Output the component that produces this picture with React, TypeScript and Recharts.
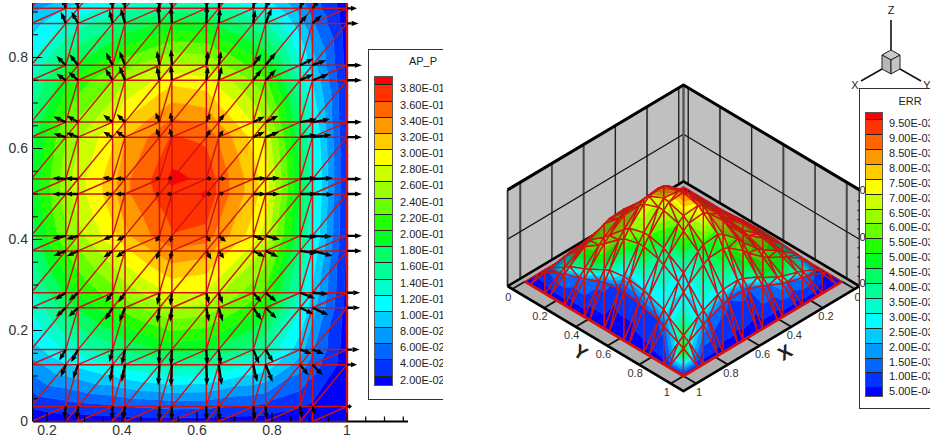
import { ScatterChart, Scatter, XAxis, YAxis } from 'recharts';

// mesh node positions, same for x and y, left and right panel
const meshNodes = [0, 0.033, 0.125, 0.158, 0.25, 0.283, 0.375, 0.408, 0.5, 0.533, 0.625, 0.658, 0.75, 0.783, 0.875, 0.908, 1];

const bandColors = [
  '#0000ff', '#0033ff', '#0066ff', '#0099ff', '#00ccff', '#00ffff', '#00ffcc', '#00ff99', '#00ff66', '#00ff22',
  '#22ff00', '#66ff00', '#99ff00', '#ccff00', '#ffff00', '#ffcc00', '#ff9900', '#ff6600', '#ff3300', '#ff0000',
];

const apLabels = ['3.80E-01', '3.60E-01', '3.40E-01', '3.20E-01', '3.00E-01', '2.80E-01', '2.60E-01', '2.40E-01', '2.20E-01', '2.00E-01', '1.80E-01', '1.60E-01', '1.40E-01', '1.20E-01', '1.00E-01', '8.00E-02', '6.00E-02', '4.00E-02', '2.00E-02'];
const errLabels = ['9.50E-03', '9.00E-03', '8.50E-03', '8.00E-03', '7.50E-03', '7.00E-03', '6.50E-03', '6.00E-03', '5.50E-03', '5.00E-03', '4.50E-03', '4.00E-03', '3.50E-03', '3.00E-03', '2.50E-03', '2.00E-03', '1.50E-03', '1.00E-03', '5.00E-04'];

// AP_P, x1000. Rows go up in y, columns go right in x.
const apValues = [
  [0, 0, 5, 6, 8, 8, 9, 10, 11, 12, 11, 11, 10, 9, 5, 4, 1],
  [1, 6, 18, 22, 30, 32, 37, 40, 44, 46, 45, 42, 37, 35, 22, 16, 2],
  [5, 21, 59, 71, 98, 105, 122, 131, 144, 149, 146, 138, 120, 113, 70, 51, 8],
  [6, 26, 74, 89, 123, 132, 153, 164, 181, 187, 183, 174, 151, 142, 88, 63, 9],
  [8, 37, 102, 123, 170, 183, 212, 228, 252, 259, 254, 241, 210, 197, 122, 88, 13],
  [9, 40, 111, 134, 185, 200, 231, 248, 274, 282, 276, 262, 228, 214, 133, 96, 14],
  [10, 47, 132, 159, 220, 237, 275, 295, 325, 336, 329, 312, 271, 254, 158, 114, 17],
  [11, 51, 141, 170, 235, 253, 293, 315, 348, 358, 351, 333, 290, 272, 170, 122, 18],
  [12, 54, 150, 181, 250, 270, 312, 335, 365, 372, 382, 354, 308, 289, 180, 129, 19],
  [12, 54, 150, 181, 250, 270, 312, 335, 368, 386, 375, 354, 308, 289, 180, 129, 19],
  [11, 51, 143, 172, 238, 256, 296, 318, 351, 362, 355, 337, 293, 274, 171, 122, 18],
  [10, 49, 135, 163, 226, 243, 281, 302, 333, 344, 337, 319, 278, 260, 162, 116, 17],
  [9, 41, 115, 139, 192, 207, 240, 258, 284, 293, 287, 272, 237, 222, 139, 99, 15],
  [8, 37, 104, 125, 173, 186, 215, 231, 255, 263, 258, 245, 213, 200, 124, 89, 13],
  [6, 26, 74, 89, 123, 132, 153, 164, 181, 187, 183, 174, 151, 142, 88, 63, 9],
  [5, 22, 60, 72, 100, 108, 125, 134, 148, 152, 149, 142, 123, 116, 72, 51, 8],
  [1, 3, 7, 9, 12, 13, 15, 17, 18, 19, 18, 17, 15, 14, 9, 6, 1],
];

// surface height, x1000. Rows go with Y, columns with X.
const surfaceZ = [
  [0, 0, 0, 0, 0, 0, 0, 0, 0, 0, 0, 0, 0, 0, 0, 0, 0],
  [0, 4, 12, 15, 21, 24, 33, 38, 47, 49, 48, 45, 37, 33, 21, 16, 0],
  [0, 13, 36, 43, 62, 70, 99, 112, 138, 143, 140, 133, 108, 96, 60, 46, 0],
  [0, 17, 46, 56, 79, 90, 127, 144, 177, 184, 180, 171, 139, 124, 77, 58, 0],
  [0, 23, 62, 76, 107, 122, 172, 195, 240, 249, 245, 232, 189, 168, 104, 79, 0],
  [0, 26, 69, 84, 120, 136, 191, 217, 267, 278, 271, 258, 210, 187, 116, 88, 0],
  [0, 33, 90, 108, 154, 175, 248, 280, 345, 360, 352, 334, 271, 241, 150, 114, 0],
  [0, 36, 96, 116, 165, 187, 264, 299, 369, 383, 376, 356, 290, 258, 162, 122, 0],
  [0, 38, 102, 123, 175, 200, 281, 318, 387, 398, 405, 379, 308, 275, 171, 129, 0],
  [0, 38, 102, 123, 175, 200, 281, 318, 390, 405, 401, 379, 308, 275, 171, 129, 0],
  [0, 36, 97, 117, 167, 189, 266, 302, 372, 387, 380, 361, 293, 260, 162, 122, 0],
  [0, 34, 92, 111, 158, 180, 253, 287, 353, 368, 361, 341, 278, 247, 154, 116, 0],
  [0, 29, 78, 95, 134, 153, 216, 245, 301, 314, 307, 291, 237, 211, 132, 99, 0],
  [0, 25, 67, 81, 115, 131, 184, 208, 257, 267, 262, 249, 202, 181, 112, 85, 0],
  [0, 15, 43, 52, 73, 83, 117, 133, 163, 170, 167, 158, 128, 115, 71, 54, 0],
  [0, 13, 35, 42, 60, 68, 96, 108, 133, 139, 135, 129, 105, 94, 58, 43, 0],
  [0, 0, 0, 0, 0, 0, 0, 0, 0, 0, 0, 0, 0, 0, 0, 0, 0],
];

// ERR, x10000
const errValues = [
  [2, 2, 2, 2, 2, 2, 2, 2, 2, 2, 2, 2, 2, 2, 2, 2, 2],
  [2, 8, 10, 12, 14, 16, 16, 18, 18, 20, 18, 20, 16, 16, 12, 8, 2],
  [2, 10, 35, 30, 45, 42, 55, 50, 58, 52, 58, 52, 54, 48, 34, 14, 2],
  [2, 12, 32, 38, 44, 52, 52, 60, 56, 62, 56, 60, 52, 56, 34, 16, 2],
  [2, 14, 45, 42, 62, 56, 72, 66, 78, 70, 70, 62, 68, 60, 38, 14, 2],
  [2, 16, 42, 50, 58, 66, 68, 78, 74, 82, 68, 72, 64, 66, 38, 16, 2],
  [2, 16, 55, 50, 72, 66, 85, 78, 88, 80, 72, 64, 64, 56, 38, 12, 2],
  [2, 18, 52, 60, 68, 78, 80, 88, 84, 90, 70, 70, 60, 58, 36, 12, 2],
  [2, 18, 58, 54, 75, 68, 85, 78, 92, 82, 72, 62, 60, 50, 22, 7, 2],
  [2, 18, 54, 62, 70, 78, 78, 86, 84, 88, 66, 68, 54, 52, 22, 8, 2],
  [2, 16, 60, 54, 76, 68, 80, 74, 80, 72, 66, 56, 42, 36, 24, 8, 2],
  [2, 16, 56, 62, 68, 74, 74, 78, 74, 74, 60, 60, 36, 36, 24, 10, 2],
  [2, 14, 48, 44, 58, 52, 60, 54, 60, 50, 52, 40, 30, 26, 26, 10, 3],
  [2, 14, 44, 50, 52, 58, 56, 58, 52, 52, 42, 40, 26, 25, 24, 12, 3],
  [2, 10, 36, 32, 44, 38, 44, 36, 36, 28, 32, 26, 28, 24, 46, 30, 4],
  [2, 6, 14, 16, 14, 18, 14, 16, 10, 12, 10, 12, 14, 18, 30, 55, 6],
  [2, 2, 2, 2, 2, 2, 2, 2, 2, 2, 3, 3, 3, 3, 3, 4, 4],
];

// vector field on the left panel, rows/columns below
const arrowRowY = [0.033, 0.125, 0.158, 0.25, 0.283, 0.375, 0.408, 0.5, 0.533, 0.625, 0.658, 0.75, 0.783, 0.875, 0.908];
const arrowColX = [0.25, 0.283, 0.375, 0.408, 0.5, 0.533, 0.625, 0.658, 0.75, 0.783, 0.875, 0.908, 1];
const arrowU = [
  [-5, -4, -2, -5, -1, -1, 0, 2, 5, 3, 5, 8, 15],
  [-15, -16, -8, -10, -4, -3, 2, 9, 12, 21, 25, 31, 30],
  [-20, -21, -10, -10, -2, -3, 2, 6, 18, 23, 35, 35, 38],
  [-30, -29, -22, -17, -7, -5, 8, 12, 25, 33, 40, 48, 40],
  [-32, -29, -22, -20, -7, -5, 8, 12, 25, 33, 45, 48, 40],
  [-37, -34, -28, -27, -10, -5, 15, 16, 35, 38, 50, 61, 45],
  [-40, -36, -28, -25, -12, -5, 12, 22, 35, 43, 50, 58, 45],
  [-40, -39, -30, -30, -12, -15, 16, 16, 40, 43, 50, 63, 45],
  [-40, -39, -30, -30, -12, -10, 16, 22, 40, 43, 50, 61, 45],
  [-37, -36, -28, -28, -10, -7, 12, 14, 35, 41, 50, 58, 45],
  [-37, -34, -28, -25, -12, -5, 12, 16, 35, 38, 50, 53, 45],
  [-28, -29, -22, -17, -8, -3, 5, 9, 25, 31, 40, 48, 45],
  [-28, -26, -20, -17, -8, -3, 5, 7, 25, 31, 40, 41, 45],
  [-15, -20, -10, -13, -4, -3, 2, 4, 6, 18, 20, 28, 35],
  [-10, -5, -5, -3, -3, -2, 2, 4, 6, 12, 12, 20, 30],
];
const arrowV = [
  [-38, -40, -40, -40, -43, -43, -43, -43, -40, -40, -36, -23, 0],
  [-37, -42, -52, -52, -62, -65, -62, -62, -52, -52, -32, -32, 0],
  [-33, -38, -38, -46, -46, -48, -46, -46, -43, -38, -13, -13, 0],
  [-27, -27, -37, -42, -45, -42, -42, -42, -37, -32, -19, -22, 0],
  [-21, -24, -29, -29, -37, -39, -34, -34, -29, -27, -17, -4, 0],
  [-15, -16, -20, -20, -26, -26, -26, -23, -18, -18, -8, -15, 0],
  [-8, -10, -12, -15, -18, -20, -18, -18, -12, -12, -4, -2, 0],
  [0, 0, 0, 0, 0, 0, 0, 2, 0, 0, 0, -2, 0],
  [3, 2, 5, 2, 3, 5, 3, 2, 3, 4, 3, 3, 0],
  [11, 13, 16, 19, 26, 26, 23, 21, 16, 16, 7, 7, 0],
  [17, 19, 22, 24, 29, 29, 26, 24, 17, 19, 9, 9, 0],
  [20, 25, 35, 42, 42, 45, 42, 42, 32, 32, 18, 18, 0],
  [28, 33, 38, 43, 43, 48, 43, 43, 33, 38, 20, 15, 0],
  [35, 35, 40, 45, 55, 50, 55, 45, 40, 45, 25, 25, 0],
  [30, 30, 30, 30, 35, 35, 35, 35, 35, 30, 30, 25, 0],
];
const arrowUnitX = 1125; // read-off units per x
const arrowUnitY = 1365; // read-off units per y

const leftXMajor = [0.2, 0.4, 0.6, 0.8, 1];
const leftYMajor = [0, 0.2, 0.4, 0.6, 0.8];
const leftXMinor = [0.25, 0.3, 0.35, 0.45, 0.5, 0.55, 0.65, 0.7, 0.75, 0.85, 0.9, 0.95, 1.05, 1.1, 1.15];
const leftYMinor = [0.05, 0.1, 0.15, 0.25, 0.3, 0.35, 0.45, 0.5, 0.55, 0.65, 0.7, 0.75, 0.85, 0.9];

const boxTicks = [0, 0.2, 0.4, 0.6, 0.8, 1];
const boxLo = -0.03;
const boxHi = 1.08;
const boxTop = 0.41;
const zTicks = [0.2];
const zMinor = [0.04, 0.08, 0.12, 0.16, 0.24, 0.28, 0.32, 0.36];
const zStretch = 2.487;

type Pt = { x: number; y: number };
type Piece = { pts: Pt[]; fill?: string; stroke?: string; width?: number; closed?: boolean; arrow?: boolean };
type V = { x: number; y: number; z: number; v: number };

const FONT = '"Liberation Sans", Arial, sans-serif';
const RED = '#d01212';

const levelsOf = (labels: string[]) => labels.map(parseFloat).reverse();

function clipLevel(poly: V[], level: number, above: boolean): V[] {
  const out: V[] = [];
  poly.forEach((p, i) => {
    const q = poly[(i + 1) % poly.length];
    const pIn = above ? p.v >= level : p.v <= level;
    const qIn = above ? q.v >= level : q.v <= level;
    if (pIn) out.push(p);
    if (pIn !== qIn) {
      const t = (level - p.v) / (q.v - p.v);
      out.push({ x: p.x + (q.x - p.x) * t, y: p.y + (q.y - p.y) * t, z: p.z + (q.z - p.z) * t, v: level });
    }
  });
  return out;
}

function bands(tri: V[], levels: number[]): { poly: V[]; band: number }[] {
  const res: { poly: V[]; band: number }[] = [];
  for (let b = 0; b < bandColors.length; b++) {
    let poly = tri;
    if (b > 0) poly = clipLevel(poly, levels[b - 1], true);
    if (b < levels.length && poly.length) poly = clipLevel(poly, levels[b], false);
    if (poly.length >= 3) res.push({ poly, band: b });
  }
  return res;
}

function cellTriangles(i: number, j: number, zs: number[][], val: number[][]): V[][] {
  const node = (a: number, b: number): V => ({ x: meshNodes[a], y: meshNodes[b], z: zs[b][a], v: val[b][a] });
  return [
    [node(i, j), node(i + 1, j), node(i + 1, j + 1)],
    [node(i, j), node(i + 1, j + 1), node(i, j + 1)],
  ];
}

function shadeColor(hex: string, f: number) {
  const n = parseInt(hex.slice(1), 16);
  const c = [(n >> 16) & 255, (n >> 8) & 255, n & 255].map((k) => Math.round(k * f));
  return `rgb(${c[0]},${c[1]},${c[2]})`;
}

function layer(key: string, pieces: Piece[]) {
  const data = pieces.flatMap((p) => p.pts);
  const draw = (props: any) => {
    const pts: Pt[] = props.points;
    let at = 0;
    return (
      <g>
        {pieces.map((p, i) => {
          const seg = pts.slice(at, at + p.pts.length);
          at += p.pts.length;
          if (p.arrow) {
            const [a, b] = seg;
            const len = Math.hypot(b.x - a.x, b.y - a.y) || 1;
            const ux = (b.x - a.x) / len;
            const uy = (b.y - a.y) / len;
            const hl = Math.min(7, len * 0.6);
            const bx = b.x - ux * hl;
            const by = b.y - uy * hl;
            return (
              <g key={i}>
                <line x1={a.x} y1={a.y} x2={bx} y2={by} stroke="#000" strokeWidth={2.3} />
                <polygon points={`${b.x},${b.y} ${bx - uy * 2.6},${by + ux * 2.6} ${bx + uy * 2.6},${by - ux * 2.6}`} fill="#000" />
              </g>
            );
          }
          const d = seg.map((s, k) => `${k ? 'L' : 'M'}${s.x.toFixed(2)} ${s.y.toFixed(2)}`).join('') + (p.closed ? 'Z' : '');
          return <path key={i} d={d} fill={p.fill ?? 'none'} stroke={p.stroke ?? 'none'} strokeWidth={p.width ?? 1} strokeLinejoin="round" />;
        })}
      </g>
    );
  };
  return <Scatter key={key} data={data} dataKey="y" line={draw} shape={() => null as any} isAnimationActive={false} />;
}

/* ---------- left panel ---------- */

function leftPieces() {
  const levels = levelsOf(apLabels);
  const apField = apValues.map((r) => r.map((n) => n / 1000));
  const fills: Piece[] = [];
  for (let i = 2; i < meshNodes.length - 1; i++) {
    for (let j = 0; j < meshNodes.length - 1; j++) {
      cellTriangles(i, j, apField, apField).forEach((tri) => {
        bands(tri, levels).forEach(({ poly, band }) => {
          fills.push({ pts: poly.map((p) => ({ x: p.x, y: p.y })), fill: bandColors[band], stroke: bandColors[band], width: 0.5, closed: true });
        });
      });
    }
  }
  const mesh: Piece[] = [];
  const last = meshNodes[meshNodes.length - 1];
  meshNodes.forEach((n) => {
    mesh.push({ pts: [{ x: n, y: 0 }, { x: n, y: last }], stroke: RED, width: n === 1 ? 2.4 : 1.5 });
    if (n < 1) mesh.push({ pts: [{ x: 0, y: n }, { x: last, y: n }], stroke: RED, width: 1.5 });
  });
  for (let i = 0; i < meshNodes.length - 1; i++) {
    for (let j = 0; j < meshNodes.length - 1; j++) {
      mesh.push({ pts: [{ x: meshNodes[i], y: meshNodes[j] }, { x: meshNodes[i + 1], y: meshNodes[j + 1] }], stroke: RED, width: 1.4 });
    }
  }
  const arrows: Piece[] = [];
  arrowRowY.forEach((y, r) => {
    arrowColX.forEach((x, c) => {
      arrows.push({ pts: [{ x, y }, { x: x + arrowU[r][c] / arrowUnitX, y: y + arrowV[r][c] / arrowUnitY }], arrow: true });
    });
  });
  const ticks: Piece[] = [];
  leftXMajor.forEach((x) => ticks.push({ pts: [{ x, y: 0 }, { x, y: 0.02 }], stroke: '#000', width: 1.2 }));
  leftXMinor.forEach((x) => ticks.push({ pts: [{ x, y: 0 }, { x, y: 0.011 }], stroke: '#000', width: 1.2 }));
  leftYMajor.forEach((y) => ticks.push({ pts: [{ x: 0.163, y }, { x: 0.187, y }], stroke: '#000', width: 1.2 }));
  leftYMinor.forEach((y) => ticks.push({ pts: [{ x: 0.163, y }, { x: 0.176, y }], stroke: '#000', width: 1.2 }));
  return { fills, mesh, arrows, ticks };
}

function LeftPanel() {
  const { fills, mesh, arrows, ticks } = leftPieces();
  return (
    <div style={{ position: 'absolute', left: 0, top: 0, width: 443, height: 442, overflow: 'hidden' }}>
      <ScatterChart width={443} height={442} margin={{ top: 3, right: 35, bottom: 0, left: 0 }}>
        <XAxis
          type="number"
          dataKey="x"
          domain={[0.1627, 1.1627]}
          allowDataOverflow
          ticks={leftXMajor}
          interval={0}
          height={20.5}
          tickLine={false}
          tickSize={0}
          tickMargin={4}
          tickFormatter={(v) => String(v)}
          tick={{ fontSize: 14, fill: '#333', fontFamily: FONT }}
          axisLine={{ stroke: '#000', strokeWidth: 2 }}
        />
        <YAxis
          type="number"
          dataKey="y"
          domain={[0, 0.9198]}
          allowDataOverflow
          ticks={leftYMajor}
          interval={0}
          width={33}
          tickLine={false}
          tickSize={0}
          tickMargin={5}
          tickFormatter={(v) => String(v)}
          tick={{ fontSize: 14, fill: '#333', fontFamily: FONT }}
          axisLine={{ stroke: '#000', strokeWidth: 2 }}
        />
        {layer('fills', fills)}
        {layer('mesh', mesh)}
        {layer('arrows', arrows)}
        {layer('ticks', ticks)}
      </ScatterChart>
    </div>
  );
}

/* ---------- right panel ---------- */

const project = (X: number, Y: number, z: number): Pt => ({ x: Y - X, y: X + Y - z * zStretch });

function boxPieces(): Piece[] {
  const out: Piece[] = [];
  const p = project;
  const wallGray = '#c0c0c0';
  out.push({ pts: [p(boxLo, boxLo, 0), p(boxHi, boxLo, 0), p(boxHi, boxLo, boxTop), p(boxLo, boxLo, boxTop)], fill: wallGray, closed: true });
  out.push({ pts: [p(boxLo, boxLo, 0), p(boxLo, boxHi, 0), p(boxLo, boxHi, boxTop), p(boxLo, boxLo, boxTop)], fill: wallGray, closed: true });
  out.push({ pts: [p(boxLo, boxLo, 0), p(boxHi, boxLo, 0), p(boxHi, boxHi, 0), p(boxLo, boxHi, 0)], fill: '#b0b0b0', closed: true });
  boxTicks.forEach((t, i) => {
    const col = i % 2 ? '#444' : '#222';
    const w = i % 2 ? 2 : 1.4;
    out.push({ pts: [p(t, boxLo, 0), p(t, boxLo, boxTop)], stroke: col, width: w });
    out.push({ pts: [p(boxLo, t, 0), p(boxLo, t, boxTop)], stroke: col, width: w });
  });
  zTicks.forEach((z) => {
    out.push({ pts: [p(boxHi, boxLo, z), p(boxLo, boxLo, z), p(boxLo, boxHi, z)], stroke: '#111', width: 1.2 });
  });
  zMinor.forEach((z) => {
    out.push({ pts: [p(boxLo, boxHi, z), p(boxLo, boxHi - 0.012, z)], stroke: '#111', width: 1.2 });
  });
  out.push({ pts: [p(boxLo, boxLo, 0), p(boxLo, boxLo, boxTop)], stroke: '#555', width: 2.4 });
  out.push({ pts: [p(boxHi, boxLo, 0), p(boxHi, boxLo, boxTop)], stroke: '#333', width: 1.8 });
  out.push({ pts: [p(boxLo, boxHi, 0), p(boxLo, boxHi, boxTop)], stroke: '#333', width: 1.8 });
  out.push({ pts: [p(boxHi, boxLo, boxTop), p(boxLo, boxLo, boxTop), p(boxLo, boxHi, boxTop)], stroke: '#000', width: 3 });
  out.push({ pts: [p(boxHi, boxLo, 0), p(boxLo, boxLo, 0), p(boxLo, boxHi, 0)], stroke: '#000', width: 2.6 });
  return out;
}

function floorFrontPieces(): Piece[] {
  const out: Piece[] = [];
  const p = project;
  boxTicks.forEach((t) => {
    out.push({ pts: [p(1, t, 0), p(boxHi, t, 0)], stroke: '#111', width: 1.8 });
    out.push({ pts: [p(t, 1, 0), p(t, boxHi, 0)], stroke: '#111', width: 1.8 });
  });
  out.push({ pts: [p(boxHi, boxLo, 0), p(boxHi, boxHi, 0), p(boxLo, boxHi, 0)], stroke: '#000', width: 2.6 });
  return out;
}

function surfacePieces(): Piece[] {
  const levels = levelsOf(errLabels);
  const errField = errValues.map((r) => r.map((n) => n / 10000));
  const zField = surfaceZ.map((r) => r.map((n) => n / 1000));
  const tris: V[][] = [];
  for (let i = 0; i < meshNodes.length - 1; i++) {
    for (let j = 0; j < meshNodes.length - 1; j++) tris.push(...cellTriangles(i, j, zField, errField));
  }
  tris.sort((a, b) => a[0].x + a[0].y + a[1].x + a[1].y + a[2].x + a[2].y - (b[0].x + b[0].y + b[1].x + b[1].y + b[2].x + b[2].y));
  const out: Piece[] = [];
  tris.forEach((tri) => {
    const ax = tri[1].x - tri[0].x, ay = tri[1].y - tri[0].y, az = (tri[1].z - tri[0].z) * 1.31;
    const bx = tri[2].x - tri[0].x, by = tri[2].y - tri[0].y, bz = (tri[2].z - tri[0].z) * 1.31;
    const nx = ay * bz - az * by, ny = az * bx - ax * bz, nz = ax * by - ay * bx;
    const nl = Math.hypot(nx, ny, nz) * Math.sign(nz || 1);
    const facing = (nx * 0.568 + ny * 0.568 + nz * 0.596) / nl;
    const shade = Math.min(1, Math.max(0.3, 0.35 + facing));
    bands(tri, levels).forEach(({ poly, band }) => {
      const c = shadeColor(bandColors[band], shade);
      out.push({ pts: poly.map((v) => project(v.x, v.y, v.z)), fill: c, stroke: c, width: 0.4, closed: true });
    });
    out.push({ pts: tri.map((v) => project(v.x, v.y, v.z)), stroke: RED, width: 1.4, closed: true });
  });
  out.push({ pts: [project(1, 0, 0), project(1, 1, 0), project(0, 1, 0)], stroke: '#d80f0f', width: 2.8 });
  return out;
}

const tickLabelData = [
  ...boxTicks.map((t) => ({ ...project(boxHi, t, 0), text: String(t), dx: -4, dy: 8 })),
  ...boxTicks.map((t) => ({ ...project(t, boxHi, 0), text: String(t), dx: 3, dy: 8 })),
];
const axisTitleData = [
  { ...project(1.2, 0.55, 0), text: 'Y', rot: 32 },
  { ...project(0.555, 1.195, 0), text: 'X', rot: -32 },
];

function RightPanel() {
  return (
    <div style={{ position: 'absolute', left: 490, top: 70, width: 380, height: 340 }}>
      <ScatterChart width={380} height={340} margin={{ top: 0, right: 0, bottom: 0, left: 0 }}>
        <XAxis type="number" dataKey="x" domain={[-1.2208, 1.1767]} hide />
        <YAxis type="number" dataKey="y" domain={[-1.238, 2.36]} reversed hide />
        {layer('box', boxPieces())}
        {layer('floor', floorFrontPieces())}
        {layer('surface', surfacePieces())}
        <Scatter
          data={tickLabelData}
          dataKey="y"
          isAnimationActive={false}
          shape={(p: any) => (
            <text x={p.cx + p.payload.dx} y={p.cy + p.payload.dy} textAnchor="middle" dominantBaseline="central" fontFamily={FONT} fontSize={11} fill="#333">
              {p.payload.text}
            </text>
          )}
        />
        <Scatter
          data={axisTitleData}
          dataKey="y"
          isAnimationActive={false}
          shape={(p: any) => (
            <text
              x={p.cx}
              y={p.cy}
              textAnchor="middle"
              dominantBaseline="central"
              fontFamily={FONT}
              fontSize={19}
              fontWeight={700}
              fill="#222"
              transform={`rotate(${p.payload.rot} ${p.cx} ${p.cy})`}
            >
              {p.payload.text}
            </text>
          )}
        />
      </ScatterChart>
    </div>
  );
}

/* ---------- legends, triad ---------- */

function ColorLegend(props: { title: string; labels: string[]; box: { x: number; y: number; w: number; h: number }; barX: number; barW: number; barTop: number; step: number; textX: number; titleX: number; titleY: number }) {
  const { title, labels, box, barX, barW, barTop, step, textX, titleX, titleY } = props;
  const half = step / 2;
  const top = barTop + half;
  return (
    <>
      <div style={{ position: 'absolute', left: box.x, top: box.y, width: box.w, height: box.h, borderLeft: '1.5px solid #333', borderTop: '1.5px solid #333', borderBottom: '1.5px solid #333', background: '#fff', boxSizing: 'border-box' }} />
      <div style={{ position: 'absolute', left: titleX - 30, width: 60, top: titleY - 7, textAlign: 'center', font: `11px ${FONT}`, color: '#222' }}>{title}</div>
      {[...bandColors].reverse().map((c, i) => {
        const y0 = i === 0 ? barTop : top + (i - 1) * step;
        const y1 = i === bandColors.length - 1 ? top + (i - 1) * step + half : top + i * step;
        return <div key={c} style={{ position: 'absolute', left: barX, top: y0, width: barW, height: y1 - y0, background: c, borderBottom: i === bandColors.length - 1 ? 'none' : '1px solid #222', boxSizing: 'border-box' }} />;
      })}
      <div style={{ position: 'absolute', left: barX - 1, top: barTop - 1, width: barW + 2, height: step * 19 + 2, border: '1px solid #555', boxSizing: 'border-box' }} />
      {labels.map((t, i) => (
        <div key={t} style={{ position: 'absolute', left: textX, top: top + i * step - 4, font: `11px/14px ${FONT}`, color: '#222', whiteSpace: 'nowrap' }}>
          {t}
        </div>
      ))}
    </>
  );
}

function Triad() {
  return (
    <svg width={930} height={100} style={{ position: 'absolute', left: 0, top: 0 }}>
      <g stroke="#111" strokeWidth={1.6} fill="none">
        <line x1={891} y1={20} x2={891} y2={50} />
        <line x1={882} y1={69} x2={861} y2={81} />
        <line x1={900} y1={69} x2={921} y2={81} />
      </g>
      <g stroke="#222" strokeWidth={1}>
        <polygon points="891,50 900,55 891,60 882,55" fill="#c9c9c9" />
        <polygon points="882,55 891,60 891,74 882,69" fill="#b8b8b8" />
        <polygon points="891,60 900,55 900,69 891,74" fill="#c4c4c4" />
      </g>
      <g fontFamily={FONT} fontSize={11} fill="#222" textAnchor="middle">
        <text x={891} y={14}>Z</text>
        <text x={855} y={89}>X</text>
        <text x={927} y={89}>Y</text>
      </g>
    </svg>
  );
}

export default function App() {
  return (
    <div style={{ position: 'absolute', left: 0, top: 0, width: 930, height: 442, background: '#fff', overflow: 'hidden' }}>
      <LeftPanel />
      <RightPanel />
      <div style={{ position: 'absolute', left: 0, top: 0, width: 443, height: 442, overflow: 'hidden', pointerEvents: 'none' }}>
        <ColorLegend title="AP_P" labels={apLabels} box={{ x: 368, y: 49, w: 90, h: 351 }} barX={375} barW={17} barTop={77.3} step={16.18} textX={400} titleX={423} titleY={62} />
      </div>
      <ColorLegend title="ERR" labels={errLabels} box={{ x: 859, y: 88, w: 90, h: 321 }} barX={866} barW={16} barTop={112.7} step={14.9} textX={889} titleX={910} titleY={102} />
      <Triad />
      {[190, 237, 283].map((y) => (
        <div key={y} style={{ position: 'absolute', left: 859.5, top: y - 7, font: `11px/14px ${FONT}`, color: '#222' }}>0</div>
      ))}
    </div>
  );
}
